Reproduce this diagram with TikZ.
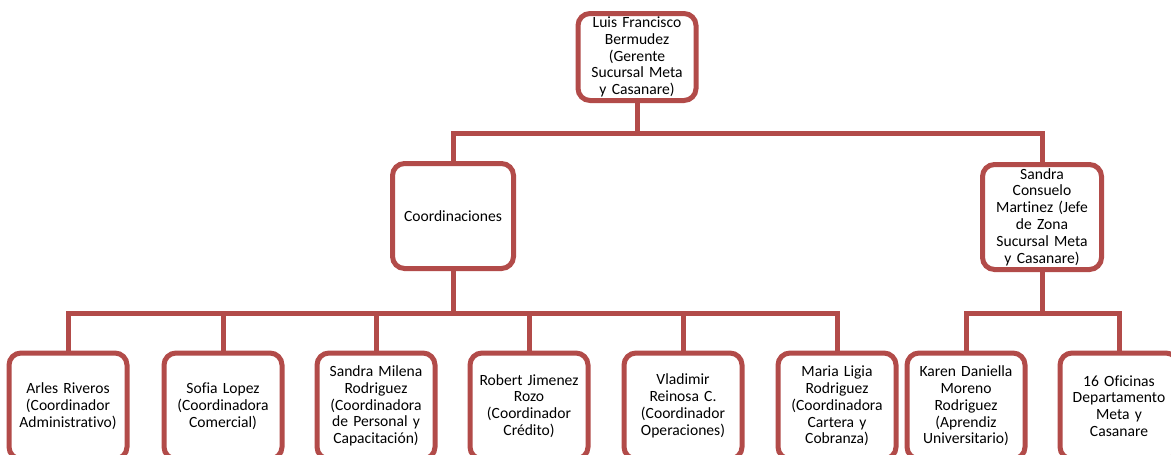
\documentclass[tikz,border=0pt]{standalone}
\usepackage{fontspec}
\setmainfont[Ligatures={NoCommon}]{Carlito}
\definecolor{boxred}{RGB}{178,75,73}
\begin{document}
\begin{tikzpicture}[x=1pt,y=-1pt,
  box/.style={draw=boxred, line width=5pt, fill=white, rounded corners=12pt,
    minimum width=118pt, align=center, inner sep=0pt, text width=116pt,
    font=\fontsize{15.6pt}{16.8pt}\selectfont, text=black},
  conn/.style={draw=boxred, line width=5pt, line join=miter, line cap=rect}]
\useasboundingbox (0,0) rectangle (1171,455);
\clip (0,0) rectangle (1171,455);
% connectors' bus lines
\coordinate (bus1) at (0,133);
\coordinate (bus2) at (0,313);
% nodes
\node[box, minimum height=87pt] (top) at (637,57) {Luis Francisco\\Bermudez\\(Gerente\\Sucursal Meta\\y Casanare)};
\node[box, minimum height=105pt, minimum width=121pt] (coord) at (453,216) {Coordinaciones};
\node[box, minimum height=105pt, minimum width=119pt] (sc) at (1042,217) {Sandra\\Consuelo\\Martinez (Jefe\\de Zona\\Sucursal Meta\\y Casanare)};
\node[box, minimum height=106pt] (b1) at (68,406) {Arles Riveros\\(Coordinador\\Administrativo)};
\node[box, minimum height=106pt] (b2) at (223,406) {Sofia Lopez\\(Coordinadora\\Comercial)};
\node[box, minimum height=106pt] (b3) at (376,406) {Sandra Milena\\Rodriguez\\(Coordinadora\\de Personal y\\Capacitación)};
\node[box, minimum height=106pt] (b4) at (529,406) {Robert Jimenez\\Rozo\\(Coordinador\\Crédito)};
\node[box, minimum height=106pt] (b5) at (683,406) {Vladimir\\Reinosa C.\\(Coordinador\\Operaciones)};
\node[box, minimum height=106pt] (b6) at (837,406) {Maria Ligia\\Rodriguez\\(Coordinadora\\Cartera y\\Cobranza)};
\node[box, minimum height=106pt] (b7) at (966,406) {Karen Daniella\\Moreno\\Rodriguez\\(Aprendiz\\Universitario)};
\node[box, minimum height=106pt] (b8) at (1119,406) {16 Oficinas\\Departamento\\Meta y\\Casanare};
% connectors
\draw[conn] (top.south) -- (top.south |- bus1);
\draw[conn] (coord.north) -- (coord.north |- bus1) -- (sc.north |- bus1) -- (sc.north);
\draw[conn] (coord.south) -- (coord.south |- bus2);
\draw[conn] (b1.north) -- (b1.north |- bus2) -- (b6.north |- bus2) -- (b6.north);
\foreach \b in {b2,b3,b4,b5} \draw[conn] (\b.north) -- (\b.north |- bus2);
\draw[conn] (sc.south) -- (sc.south |- bus2);
\draw[conn] (b7.north) -- (b7.north |- bus2) -- (b8.north |- bus2) -- (b8.north);
\end{tikzpicture}
\end{document}
